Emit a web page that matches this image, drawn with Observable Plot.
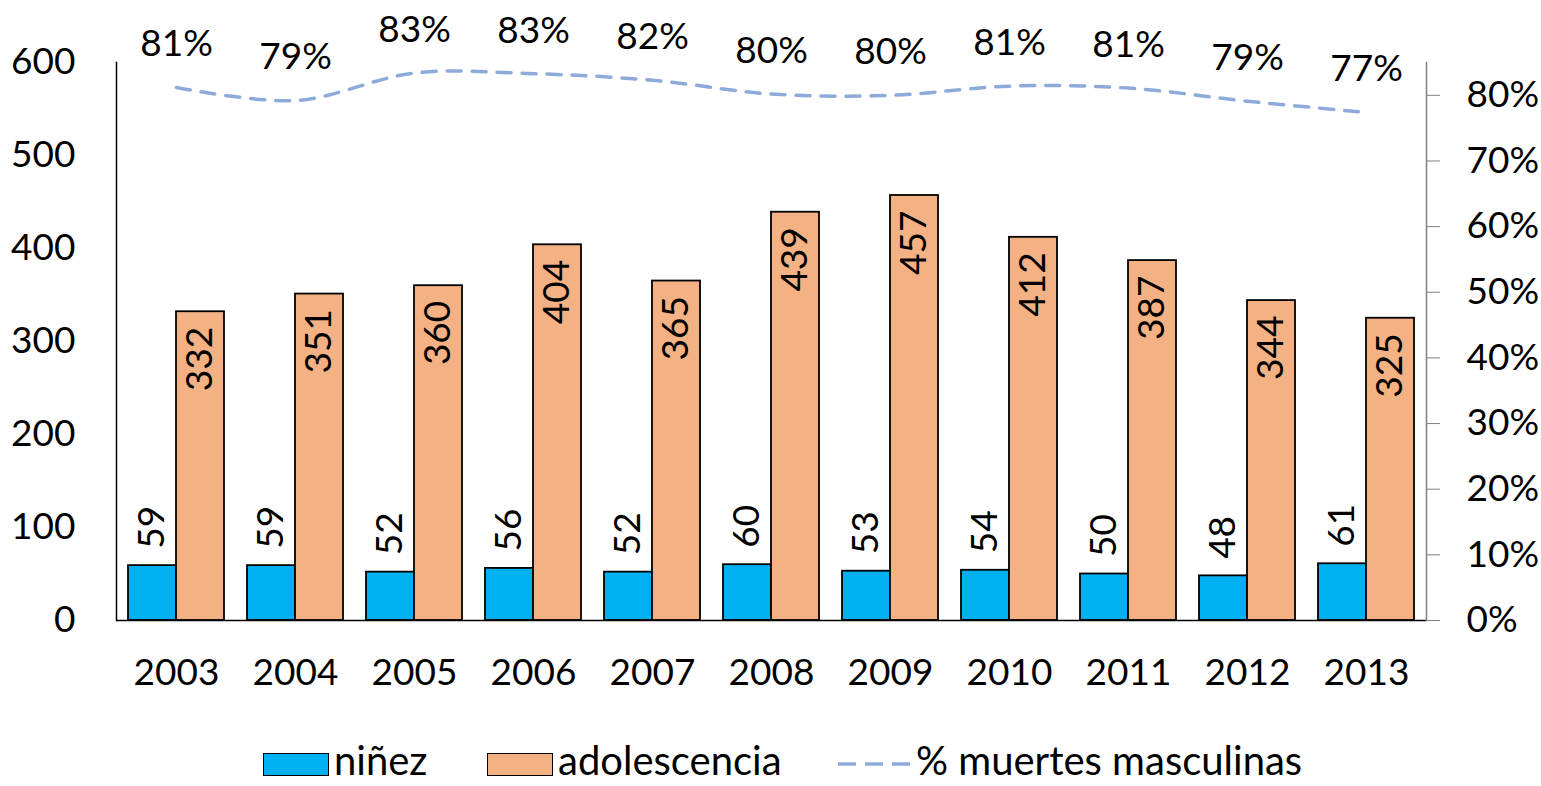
<!DOCTYPE html>
<html><head><meta charset="utf-8">
<script src="https://cdn.jsdelivr.net/npm/d3@7"></script>
<script src="https://cdn.jsdelivr.net/npm/@observablehq/plot@0.6"></script>
<style>
html,body{margin:0;padding:0;background:#fff;overflow:hidden}
body{font-family:Lato,"Open Sans",sans-serif;color:#000}
#legend{position:relative;width:1541px;height:38px;font-size:40px;line-height:36px;margin-top:1px}
.item{position:absolute;top:0;height:38px;display:flex;align-items:center;white-space:nowrap}
.sw{width:64px;height:21px;border:1.5px solid #000;margin-right:5px;box-sizing:content-box;position:relative;top:4px}
.ln{margin-right:4px;position:relative;top:4px}
</style></head>
<body>
<div id="chart"></div>
<div id="legend"></div>
<script>
const years = ["2003","2004","2005","2006","2007","2008","2009","2010","2011","2012","2013"];
const ninez = [59,59,52,56,52,60,53,54,50,48,61];
const adolescencia = [332,351,360,404,365,439,457,412,387,344,325];
const pctMasculinas = [0.812,0.792,0.834,0.833,0.823,0.802,0.800,0.814,0.811,0.791,0.774];
const leftTicks = [0,100,200,300,400,500,600];
const rightTicks = [0,0.1,0.2,0.3,0.4,0.5,0.6,0.7,0.8];
const seriesNames = ["niñez","adolescencia","% muertes masculinas"];
const colors = {ninez:"#00b0f0", adol:"#f4b183", line:"#8eaadb"};

const leftMax = 600, rightMax = 0.85;
const toLeft = p => p * leftMax / rightMax;

const rows = years.map((year, i) => ({
  year, ninez: ninez[i], adol: adolescencia[i], pct: pctMasculinas[i], pctY: toLeft(pctMasculinas[i])
}));

const chart = Plot.plot({
  width: 1541, height: 740,
  marginLeft: 116, marginRight: 115, marginTop: 62, marginBottom: 120,
  style: {fontFamily: "Lato, 'Open Sans', sans-serif", fontSize: "37px", color: "#000", background: "#fff", overflow: "visible"},
  x: {type: "band", domain: years, paddingInner: 0.194, paddingOuter: 0.1, label: null},
  y: {domain: [0, leftMax], label: null},
  marks: [
    Plot.barY(rows, {x: "year", y: "ninez", fill: colors.ninez, stroke: "#000", strokeWidth: 1.8, insetRight: 48}),
    Plot.barY(rows, {x: "year", y: "adol", fill: colors.adol, stroke: "#000", strokeWidth: 1.8, insetLeft: 48}),
    Plot.ruleY([0], {stroke: "#000", strokeWidth: 1.5}),
    Plot.frame({anchor: "left", stroke: "#000", strokeWidth: 1.5}),
    Plot.frame({anchor: "right", stroke: "#808080", strokeWidth: 1.5}),
    Plot.axisY({ticks: leftTicks, tickSize: 0, tickPadding: 41, label: null}),
    Plot.axisY({anchor: "right", ticks: rightTicks.map(toLeft), tickFormat: d => Math.round(d * rightMax / leftMax * 100) + "%",
      tickSize: 13, tickPadding: 27, stroke: "#808080", fill: "#000", label: null}),
    Plot.axisX({tickSize: 0, tickPadding: 38, label: null}),
    Plot.text(rows, {x: "year", y: "ninez", text: d => String(d.ninez), rotate: -90, textAnchor: "start", dx: -24, dy: -17, fill: "#000"}),
    Plot.text(rows, {x: "year", y: "adol", text: d => String(d.adol), rotate: -90, textAnchor: "end", dx: 24, dy: 15, fill: "#000"}),
    Plot.line(rows, {x: "year", y: "pctY", stroke: colors.line, strokeWidth: 3.5, strokeDasharray: "14,11", curve: "catmull-rom"}),
    Plot.text(rows, {x: "year", y: "pctY", text: d => Math.round(d.pct * 100) + "%", dy: -43, fill: "#000"})
  ]
});
document.getElementById("chart").appendChild(chart);

const legend = document.getElementById("legend");
const items = [
  {left: 263, html: `<div class="sw" style="background:${colors.ninez}"></div><span>${seriesNames[0]}</span>`},
  {left: 487, html: `<div class="sw" style="background:${colors.adol}"></div><span>${seriesNames[1]}</span>`},
  {left: 836, html: `<svg class="ln" width="76" height="10"><line x1="2" y1="5" x2="74" y2="5" stroke="${colors.line}" stroke-width="3.5" stroke-dasharray="18,9"/></svg><span>${seriesNames[2]}</span>`}
];
for (const it of items) {
  const d = document.createElement("div");
  d.className = "item";
  d.style.left = it.left + "px";
  d.innerHTML = it.html;
  legend.appendChild(d);
}
</script>
</body></html>
